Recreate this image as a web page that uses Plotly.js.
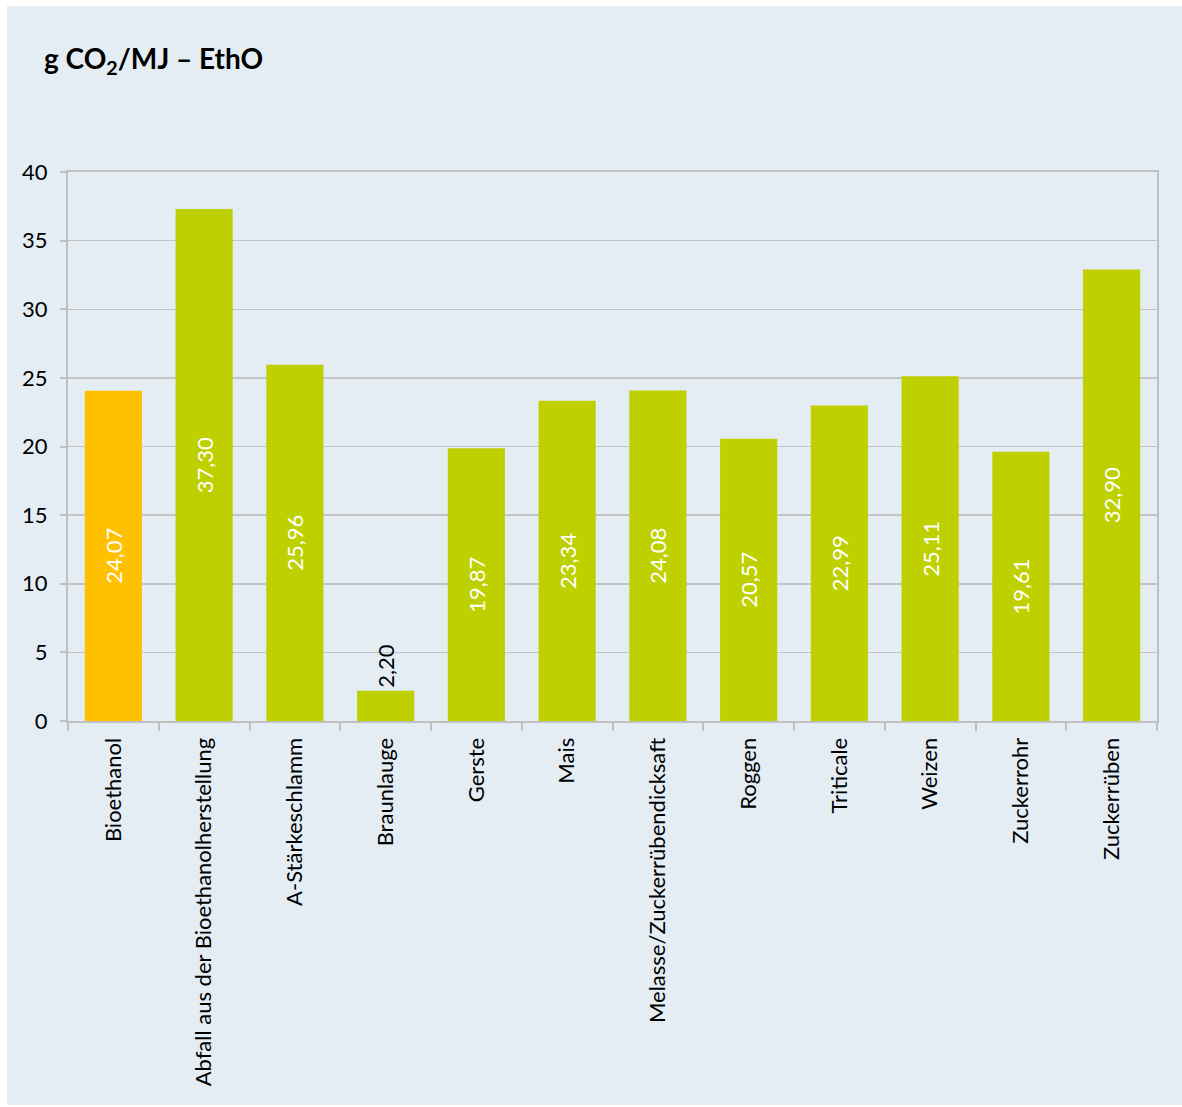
<!DOCTYPE html>
<html>
<head>
<meta charset="utf-8">
<script src="https://cdn.plot.ly/plotly-3.0.1.min.js"></script>
<style>
  html, body { margin: 0; padding: 0; background: #ffffff; }
  #chart { position: absolute; left: 7px; top: 6px; width: 1175px; height: 1099px; }
</style>
</head>
<body>
<div id="chart"></div>
<script>
const categories = ["Bioethanol", "Abfall aus der Bioethanolherstellung", "A-Stärkeschlamm", "Braunlauge", "Gerste", "Mais", "Melasse/Zuckerrübendicksaft", "Roggen", "Triticale", "Weizen", "Zuckerrohr", "Zuckerrüben"];
const values = [24.07, 37.30, 25.96, 2.20, 19.87, 23.34, 24.08, 20.57, 22.99, 25.11, 19.61, 32.90];
const yTicks = [0, 5, 10, 15, 20, 25, 30, 35, 40];

const barColors = categories.map((c, i) => i === 0 ? "#ffc000" : "#bed000");
const labels = values.map(v => v.toFixed(2).replace(".", ","));
const positions = values.map(v => v < 5 ? "outside" : "inside");
const FONT = "Lato, 'Open Sans', sans-serif";

const trace = {
  type: "bar",
  x: categories,
  y: values,
  text: labels,
  textposition: positions,
  textangle: -90,
  insidetextanchor: "middle",
  constraintext: "none",
  cliponaxis: false,
  insidetextfont: { family: FONT, size: 22, color: "#ffffff" },
  outsidetextfont: { family: FONT, size: 22, color: "#000000" },
  marker: { color: barColors, line: { width: 0 } },
  hoverinfo: "none"
};

const layout = {
  width: 1175,
  height: 1099,
  paper_bgcolor: "#e4edf4",
  plot_bgcolor: "#e4edf4",
  margin: { l: 61, r: 25, t: 166, b: 384 },
  bargap: 0.37,
  showlegend: false,
  font: { family: FONT, color: "#000000" },
  title: {
    text: "<b>g CO<sub>2</sub>/MJ – EthO</b>",
    x: 37 / 1175,
    xanchor: "left",
    y: 1 - 53 / 1099,
    yanchor: "middle",
    font: { family: FONT, size: 28, color: "#000000" }
  },
  xaxis: {
    type: "category",
    tickangle: -90,
    ticks: "outside",
    tickson: "boundaries",
    ticklen: 8,
    tickwidth: 2,
    tickcolor: "#c0c0c0",
    ticklabelstandoff: 6,
    showline: true,
    linecolor: "#c0c0c0",
    linewidth: 2,
    mirror: true,
    showgrid: false,
    tickfont: { family: FONT, size: 22, color: "#000000" },
    fixedrange: true
  },
  yaxis: {
    range: [0, 40],
    tickvals: yTicks,
    ticktext: yTicks.map(String),
    ticks: "outside",
    ticklen: 6,
    tickwidth: 2,
    tickcolor: "#c0c0c0",
    ticklabelstandoff: 8,
    showline: true,
    linecolor: "#c0c0c0",
    linewidth: 2,
    mirror: true,
    showgrid: true,
    gridcolor: "#c4c4c4",
    gridwidth: 1.5,
    zeroline: false,
    tickfont: { family: FONT, size: 22, color: "#000000" },
    fixedrange: true
  }
};

Plotly.newPlot("chart", [trace], layout, { displayModeBar: false, staticPlot: true });
</script>
</body>
</html>
